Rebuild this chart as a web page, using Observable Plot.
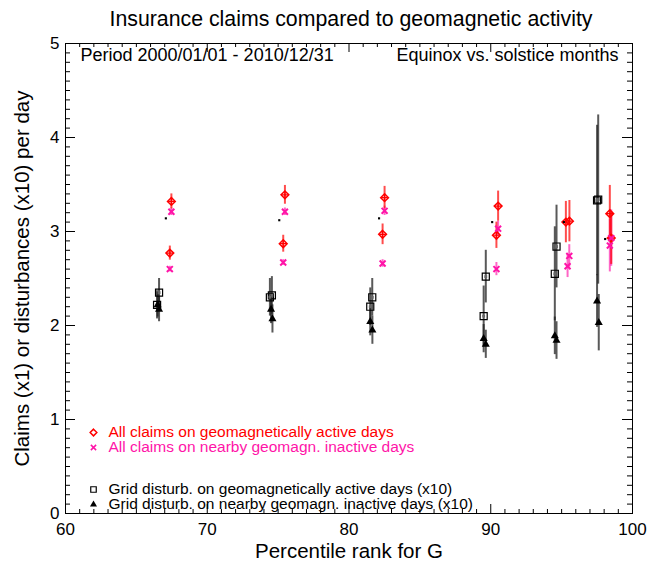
<!DOCTYPE html>
<html>
<head>
<meta charset="utf-8">
<script src="https://cdn.jsdelivr.net/npm/d3@7"></script>
<script src="https://cdn.jsdelivr.net/npm/@observablehq/plot@0.6"></script>
<style>
  body { margin: 0; background: #fff; }
  #chart svg { display: block; }
</style>
</head>
<body>
<div id="chart"></div>
<script>
// Percentile bins of G; each bin holds an equinox and a solstice estimate.
// All claims on geomagnetically active days
const activeClaimsX   = [67.47, 67.36, 75.48, 75.36, 82.51, 82.37, 90.52, 90.40, 95.30, 95.55, 98.40, 98.50];
const activeClaimsY   = [3.32, 2.77, 3.39, 2.87, 3.36, 2.97, 3.27, 2.96, 3.10, 3.11, 3.19, 2.93];
const activeClaimsErr = [0.08, 0.075, 0.10, 0.09, 0.12, 0.11, 0.16, 0.14, 0.22, 0.22, 0.30, 0.28];

// All claims on nearby geomagnetically inactive days
const inactiveClaimsX   = [67.47, 67.36, 75.48, 75.36, 82.51, 82.37, 90.52, 90.40, 95.54, 95.42, 98.50, 98.40];
const inactiveClaimsY   = [3.21, 2.60, 3.21, 2.67, 3.22, 2.66, 3.03, 2.60, 2.74, 2.63, 2.93, 2.85];
const inactiveClaimsErr = [0.04, 0.03, 0.04, 0.03, 0.05, 0.04, 0.08, 0.07, 0.12, 0.12, 0.30, 0.28];

// Overall mean claim level per bin
const meanX = [67.08, 75.08, 82.12, 90.10, 95.16, 98.07];
const meanY = [3.14, 3.12, 3.14, 3.10, 3.10, 2.92];

// Grid disturbances on geomagnetically active days (x10)
const activeGridX   = [66.60, 66.46, 74.56, 74.42, 81.64, 81.50, 89.65, 89.50, 94.64, 94.52, 97.58, 97.50];
const activeGridY   = [2.35, 2.22, 2.32, 2.30, 2.30, 2.20, 2.52, 2.10, 2.84, 2.55, 3.34, 3.33];
const activeGridErr = [0.15, 0.15, 0.20, 0.20, 0.20, 0.20, 0.28, 0.32, 0.44, 0.50, 0.90, 0.80];

// Grid disturbances on nearby geomagnetically inactive days (x10)
const inactiveGridX   = [66.50, 66.60, 74.50, 74.60, 81.50, 81.65, 89.50, 89.65, 94.52, 94.64, 97.50, 97.62];
const inactiveGridY   = [2.22, 2.17, 2.17, 2.07, 2.04, 1.95, 1.86, 1.80, 1.89, 1.84, 2.26, 2.03];
const inactiveGridErr = [0.13, 0.13, 0.15, 0.15, 0.15, 0.15, 0.15, 0.15, 0.20, 0.20, 0.28, 0.30];

// Axis ticks and texts
const xDomain = [60, 100];
const yDomain = [0, 5];
const xTickLabels = [60, 70, 80, 90, 100];
const yTickLabels = [0, 1, 2, 3, 4, 5];
const titleText = "Insurance claims compared to geomagnetic activity";
const periodText = "Period 2000/01/01 - 2010/12/31";
const seasonText = "Equinox vs. solstice months";
const xLabel = "Percentile rank for G";
const yLabel = "Claims (x1) or disturbances (x10) per day";
const legendLabels = [
  "All claims on geomagnetically active days",
  "All claims on nearby geomagn. inactive days",
  "Grid disturb. on geomagnetically active days (x10)",
  "Grid disturb. on nearby geomagn. inactive days (x10)"
];

const RED = "#ff0000";
const PINK = "#ff14a8";
const FONT = "'Liberation Sans', Arial, Helvetica, sans-serif";

const W = 649, H = 562;
const mL = 65, mR = 17, mT = 43, mB = 49;
const xPerPx = (xDomain[1] - xDomain[0]) / (W - mL - mR);
const yPerPx = (yDomain[1] - yDomain[0]) / (H - mT - mB);

const rows = (xs, ys, es) => xs.map((x, i) => ({x, y: ys[i], lo: ys[i] - es[i], hi: ys[i] + es[i]}));
const activeClaims = rows(activeClaimsX, activeClaimsY, activeClaimsErr);
const inactiveClaims = rows(inactiveClaimsX, inactiveClaimsY, inactiveClaimsErr);
const activeGrid = rows(activeGridX, activeGridY, activeGridErr);
const inactiveGrid = rows(inactiveGridX, inactiveGridY, inactiveGridErr);
const means = meanX.map((x, i) => ({x, y: meanY[i]}));

// Inward-pointing minor/major ticks on all four sides
const xTicks = d3.range(xDomain[0], xDomain[1] + 1, 1);
const yTicks = d3.range(0, 51).map(i => i / 10);
const xLen = d => (d % 10 === 0 ? 9 : 4) * yPerPx;
const yLen = d => (Math.abs(d - Math.round(d)) < 1e-9 ? 10 : 5) * xPerPx;

// Legend entries anchored to the lower-left corner of the frame
const legendDy = [-81, -66, -24, -9];
const legendColors = [RED, PINK, "#000", "#000"];

const label = (text, opts) => Plot.text([text], {lineAnchor: "middle", fill: "#000", ...opts});

const chart = Plot.plot({
  width: W,
  height: H,
  marginLeft: mL,
  marginRight: mR,
  marginTop: mT,
  marginBottom: mB,
  style: {fontFamily: FONT, fontSize: "17px", background: "#fff", color: "#000", overflow: "visible"},
  x: {domain: xDomain},
  y: {domain: yDomain},
  marks: [
    Plot.frame({stroke: "#000", strokeWidth: 1}),
    Plot.ruleX(xTicks, {x: d => d, y1: yDomain[0], y2: d => yDomain[0] + xLen(d), stroke: "#000"}),
    Plot.ruleX(xTicks, {x: d => d, y1: yDomain[1], y2: d => yDomain[1] - xLen(d), stroke: "#000"}),
    Plot.ruleY(yTicks, {y: d => d, x1: xDomain[0], x2: d => xDomain[0] + yLen(d), stroke: "#000"}),
    Plot.ruleY(yTicks, {y: d => d, x1: xDomain[1], x2: d => xDomain[1] - yLen(d), stroke: "#000"}),
    Plot.axisX({ticks: xTickLabels, tickSize: 0, tickPadding: 9, fontSize: 17, label: null, tickFormat: d => String(d)}),
    Plot.axisY({ticks: yTickLabels, tickSize: 0, tickPadding: 6, fontSize: 17, label: null, tickFormat: d => String(d)}),

    // error bars
    Plot.ruleX(activeGrid, {x: "x", y1: "lo", y2: "hi", stroke: "#222", strokeWidth: 2, strokeOpacity: 0.75}),
    Plot.ruleX(inactiveGrid, {x: "x", y1: "lo", y2: "hi", stroke: "#222", strokeWidth: 2, strokeOpacity: 0.75}),
    Plot.ruleX(inactiveClaims, {x: "x", y1: "lo", y2: "hi", stroke: PINK, strokeWidth: 2, strokeOpacity: 0.65}),
    Plot.ruleX(activeClaims, {x: "x", y1: "lo", y2: "hi", stroke: RED, strokeWidth: 2, strokeOpacity: 0.7}),

    // markers
    Plot.dot(activeGrid, {x: "x", y: "y", symbol: "square2", r: 4.5, stroke: "#000", strokeWidth: 1.2, fill: "none"}),
    Plot.dot(activeGrid, {x: "x", y: "y", symbol: "square", r: 1.6, fill: "#666"}),
    Plot.dot(inactiveGrid, {x: "x", y: "y", symbol: "triangle", r: 3, fill: "#000"}),
    Plot.dot(activeClaims, {x: "x", y: "y", symbol: "diamond2", r: 3.5, stroke: RED, strokeWidth: 1.5, fill: "none"}),
    Plot.dot(activeClaims, {x: "x", y: "y", symbol: "plus", r: 2.2, stroke: RED, strokeWidth: 1.2}),
    Plot.dot(inactiveClaims, {x: "x", y: "y", symbol: "times", r: 2.8, stroke: PINK, strokeWidth: 2}),
    Plot.dot(means, {x: "x", y: "y", symbol: "square", r: 1.2, fill: "#000"}),

    // titles and labels
    label(titleText, {frameAnchor: "top", dx: 2, dy: -24, fontSize: 21.3}),
    label(periodText, {frameAnchor: "top-left", dx: 15, dy: 12, textAnchor: "start", fontSize: 18}),
    label(seasonText, {frameAnchor: "top-right", dx: -14, dy: 12, textAnchor: "end", fontSize: 18}),
    label(xLabel, {frameAnchor: "bottom", dy: 38, fontSize: 20.5}),
    label(yLabel, {frameAnchor: "left", dx: -43, rotate: -90, textAnchor: "middle", fontSize: 20.5}),

    // legend
    Plot.dot([0], {frameAnchor: "bottom-left", dx: 28, dy: legendDy[0], symbol: "diamond2", r: 3, stroke: RED, strokeWidth: 1.5}),
    Plot.dot([0], {frameAnchor: "bottom-left", dx: 28, dy: legendDy[1], symbol: "times", r: 2.5, stroke: PINK, strokeWidth: 1.5}),
    Plot.dot([0], {frameAnchor: "bottom-left", dx: 28, dy: legendDy[2], symbol: "square2", r: 3.5, stroke: "#000", strokeWidth: 1.2}),
    Plot.dot([0], {frameAnchor: "bottom-left", dx: 28, dy: legendDy[3], symbol: "triangle", r: 2.6, fill: "#000"}),
    ...legendLabels.map((text, i) =>
      label(text, {frameAnchor: "bottom-left", dx: 43, dy: legendDy[i], textAnchor: "start", fontSize: 15.5, fill: legendColors[i]})
    )
  ]
});

document.getElementById("chart").appendChild(chart);
</script>
</body>
</html>
